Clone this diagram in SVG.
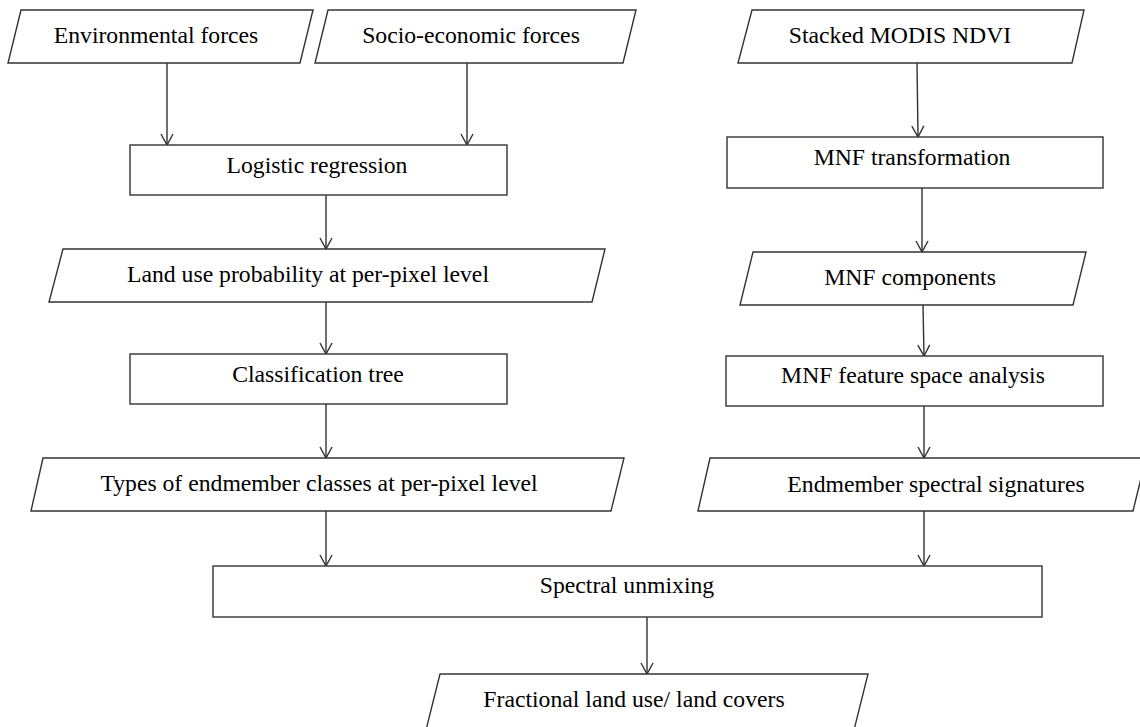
<svg xmlns="http://www.w3.org/2000/svg" width="1140" height="727" viewBox="0 0 1140 727">
<style>
.shape{fill:#fff;stroke:#333;stroke-width:1.4}
.conn{stroke:#333;stroke-width:1.4;fill:none;marker-end:url(#arr)}
.lbl{font-family:"Liberation Serif","Times New Roman",serif;font-size:23.7px;fill:#000;text-anchor:middle}
</style>
<defs>
<marker id="arr" markerUnits="userSpaceOnUse" markerWidth="14" markerHeight="16" viewBox="-12 -8 14 16" refX="0" refY="0" orient="auto" overflow="visible">
<path d="M-11,-6 L0,0 L-11,6" fill="none" stroke="#333" stroke-width="1.4"/>
</marker>
</defs>
<rect width="1140" height="727" fill="#fff"/>
<g id="connectors">
<path class="conn" d="M167,63 V145"/>
<path class="conn" d="M467,63 V145"/>
<path class="conn" d="M917,63 L918,137"/>
<path class="conn" d="M326,195 V249"/>
<path class="conn" d="M922,188 V252"/>
<path class="conn" d="M326,302 V354"/>
<path class="conn" d="M923,305 L924,356"/>
<path class="conn" d="M326,404 V458"/>
<path class="conn" d="M924,406 V458"/>
<path class="conn" d="M326,511 V566"/>
<path class="conn" d="M924,511 V566"/>
<path class="conn" d="M647,617 V674"/>
</g>
<g id="env"><polygon class="shape" points="21,10 313,10 300,63 8,63"/><text class="lbl" x="156" y="43">Environmental forces</text></g>
<g id="socio"><polygon class="shape" points="328,10 636,10 623,63 315,63"/><text class="lbl" x="471" y="43">Socio-economic forces</text></g>
<g id="modis"><polygon class="shape" points="752,10 1084,10 1072,63 738,63"/><text class="lbl" x="900" y="43">Stacked MODIS NDVI</text></g>
<g id="logistic"><rect class="shape" x="130" y="145" width="377" height="50"/><text class="lbl" x="317" y="173">Logistic regression</text></g>
<g id="mnft"><rect class="shape" x="727" y="137" width="376" height="51"/><text class="lbl" x="912" y="165">MNF transformation</text></g>
<g id="landuse"><polygon class="shape" points="63,249 605,249 592,302 49,302"/><text class="lbl" x="308" y="282">Land use probability at per-pixel level</text></g>
<g id="mnfc"><polygon class="shape" points="753,252 1086,252 1073,305 740,305"/><text class="lbl" x="910" y="285">MNF components</text></g>
<g id="ctree"><rect class="shape" x="130" y="354" width="377" height="50"/><text class="lbl" x="318" y="382">Classification tree</text></g>
<g id="mnffs"><rect class="shape" x="726" y="356" width="377" height="50"/><text class="lbl" x="913" y="383">MNF feature space analysis</text></g>
<g id="types"><polygon class="shape" points="43,458 624,458 611,511 31,511"/><text class="lbl" x="319" y="491">Types of endmember classes at per-pixel level</text></g>
<g id="endsig"><polygon class="shape" points="710,458 1146,458 1133,511 698,511"/><text class="lbl" x="936" y="492">Endmember spectral signatures</text></g>
<g id="unmix"><rect class="shape" x="213" y="566" width="829" height="51"/><text class="lbl" x="627" y="593">Spectral unmixing</text></g>
<g id="fraction"><polygon class="shape" points="440,674 868,674 854,730 426,730"/><text class="lbl" x="634" y="707">Fractional land use/ land covers</text></g>
</svg>
